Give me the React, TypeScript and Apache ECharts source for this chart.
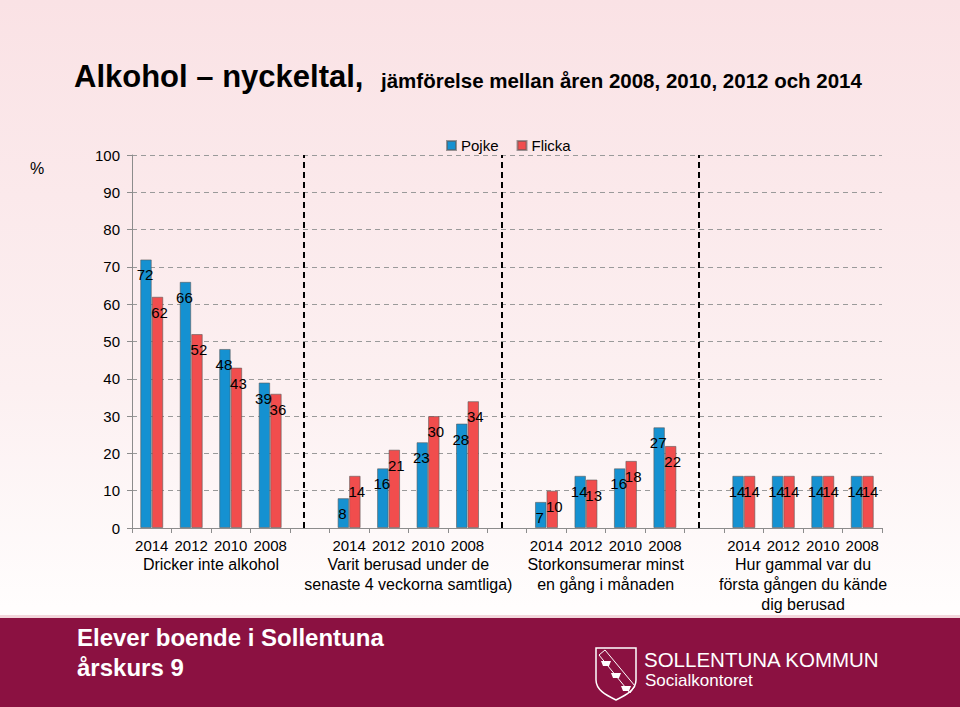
import React, { useEffect, useRef } from "react";
import * as echarts from "echarts";

const categories = [
  "2014", "2012", "2010", "2008", "",
  "2014", "2012", "2010", "2008", "",
  "2014", "2012", "2010", "2008", "",
  "2014", "2012", "2010", "2008",
];
const pojke = [72, 66, 48, 39, null, 8, 16, 23, 28, null, 7, 14, 16, 27, null, 14, 14, 14, 14];
const flicka = [62, 52, 43, 36, null, 14, 21, 30, 34, null, 10, 13, 18, 22, null, 14, 14, 14, 14];
const groupLabels = [
  "Dricker inte alkohol",
  "Varit berusad under de\nsenaste 4 veckorna samtliga)",
  "Storkonsumerar minst\nen gång i månaden",
  "Hur gammal var du\nförsta gången du kände\ndig berusad",
];
const groupStarts = [0, 5, 10, 15];
const separators = [4, 9, 14];
const seriesNames = ["Pojke", "Flicka"];

const FONT = "'Liberation Sans', Arial, sans-serif";
const BLUE = "#1591d1";
const RED = "#f14d4d";

const shieldPath =
  "M0,0 L40,0 L40,32 C40,42 30,47 20,52 C10,47 0,42 0,32 Z";

export default function App() {
  const ref = useRef<HTMLDivElement>(null);

  useEffect(() => {
    if (!ref.current) return;
    try {
      echarts.graphic.registerShape("logo", echarts.graphic.extendPath(shieldPath, {}) as any);
    } catch (e) {}
    const chart = echarts.init(ref.current, null, { renderer: "svg" });

    const labelOpt = (dx: number) => ({
      show: true,
      position: "insideTop",
      distance: 8,
      offset: [dx, 0],
      color: "#000",
      fontSize: 15,
      fontFamily: FONT,
      formatter: (p: any) => String(p.value),
    });

    const staticGraphics: any[] = [
      {
        type: "rect",
        shape: { x: 0, y: 615, width: 960, height: 3 },
        style: { fill: "#f3d6dc" },
        silent: true,
      },
      {
        type: "rect",
        shape: { x: 0, y: 618, width: 960, height: 89 },
        style: { fill: "#8b1141" },
        silent: true,
      },
      {
        type: "text",
        x: 74,
        y: 76,
        style: {
          text: "Alkohol – nyckeltal,",
          font: `bold 31px ${FONT}`,
          fill: "#000",
          verticalAlign: "middle",
        },
      },
      {
        type: "text",
        x: 381,
        y: 80,
        style: {
          text: "jämförelse mellan åren 2008, 2010, 2012 och 2014",
          font: `bold 20.5px ${FONT}`,
          fill: "#000",
          verticalAlign: "middle",
        },
      },
      {
        type: "text",
        x: 30,
        y: 168,
        style: { text: "%", font: `16px ${FONT}`, fill: "#000", verticalAlign: "middle" },
      },
      {
        type: "text",
        x: 77,
        y: 637,
        style: {
          text: "Elever boende i Sollentuna",
          font: `bold 24px ${FONT}`,
          fill: "#fff",
          verticalAlign: "middle",
        },
      },
      {
        type: "text",
        x: 77,
        y: 667,
        style: { text: "årskurs 9", font: `bold 24px ${FONT}`, fill: "#fff", verticalAlign: "middle" },
      },
      {
        type: "logo",
        x: 596,
        y: 648,
        scaleX: 1,
        scaleY: 1,
        style: { fill: "none", stroke: "#fff", lineWidth: 1.5 },
      },
      {
        type: "polygon",
        shape: { points: [[599, 655], [605, 650], [635, 686], [630, 693]] },
        style: { fill: "none", stroke: "#fff", lineWidth: 1 },
      },
      {
        type: "polygon",
        shape: { points: [[601, 661], [611, 661], [609, 666], [603, 666]] },
        style: { fill: "#fff" },
      },
      {
        type: "polygon",
        shape: { points: [[611, 673], [621, 673], [619, 678], [613, 678]] },
        style: { fill: "#fff" },
      },
      {
        type: "polygon",
        shape: { points: [[621, 686], [631, 686], [629, 691], [623, 691]] },
        style: { fill: "#fff" },
      },
      {
        type: "text",
        x: 644,
        y: 659,
        style: { text: "SOLLENTUNA KOMMUN", font: `20.5px ${FONT}`, fill: "#fff", verticalAlign: "middle" },
      },
      {
        type: "text",
        x: 645,
        y: 680,
        style: { text: "Socialkontoret", font: `17px ${FONT}`, fill: "#fff", verticalAlign: "middle" },
      },
    ];

    chart.setOption({
      animation: false,
      backgroundColor: new echarts.graphic.LinearGradient(0, 0, 0, 1, [
        { offset: 0, color: "#fae2e5" },
        { offset: 0.55, color: "#fcf0f1" },
        { offset: 0.86, color: "#fffdfd" },
        { offset: 1, color: "#ffffff" },
      ]),
      textStyle: { fontFamily: FONT },
      legend: {
        data: seriesNames,
        top: 133,
        left: 441,
        icon: "rect",
        itemWidth: 9,
        itemHeight: 9,
        itemGap: 18,
        textStyle: { fontSize: 15, color: "#000", fontFamily: FONT },
      },
      grid: { left: 132, right: 78, top: 155, bottom: 179, containLabel: false },
      xAxis: {
        type: "category",
        data: categories,
        axisLine: { lineStyle: { color: "#8c8c8c" } },
        axisTick: { show: true, length: 5, lineStyle: { color: "#8c8c8c" } },
        axisLabel: { color: "#000", fontSize: 15, fontFamily: FONT, margin: 10, interval: 0 },
      },
      yAxis: {
        type: "value",
        min: 0,
        max: 100,
        interval: 10,
        axisLine: { show: true, lineStyle: { color: "#8c8c8c" } },
        axisTick: { show: true, length: 5, lineStyle: { color: "#8c8c8c" } },
        axisLabel: { color: "#000", fontSize: 15, fontFamily: FONT, margin: 12 },
        splitLine: { lineStyle: { color: "#9a9a9a", type: [5, 4] } },
      },
      series: [
        {
          name: seriesNames[0],
          type: "bar",
          data: pojke,
          barWidth: 11.5,
          barGap: "0%",
          itemStyle: { color: BLUE, borderColor: "rgba(90,90,90,0.6)", borderWidth: 1 },
          label: labelOpt(-1),
          markLine: {
            silent: true,
            symbol: "none",
            label: { show: false },
            lineStyle: { color: "#000", type: [6, 4], width: 2 },
            data: separators.map((i) => ({ xAxis: i })),
          },
        },
        {
          name: seriesNames[1],
          type: "bar",
          data: flicka,
          barWidth: 11.5,
          barGap: "0%",
          itemStyle: { color: RED, borderColor: "rgba(90,90,90,0.6)", borderWidth: 1 },
          label: labelOpt(2),
        },
      ],
      graphic: staticGraphics,
    });

    const groupGraphics = groupStarts.map((s, i) => {
      const a = chart.convertToPixel({ xAxisIndex: 0 }, s + 1) as number;
      const b = chart.convertToPixel({ xAxisIndex: 0 }, s + 2) as number;
      return {
        type: "text",
        x: (a + b) / 2,
        y: 554,
        style: {
          text: groupLabels[i],
          font: `16px ${FONT}`,
          lineHeight: 20,
          fill: "#000",
          align: "center",
          verticalAlign: "top",
        },
      };
    });

    chart.setOption({ graphic: [...staticGraphics, ...groupGraphics] });

    return () => chart.dispose();
  }, []);

  return (
    <div
      ref={ref}
      style={{ position: "absolute", left: 0, top: 0, width: 960, height: 707 }}
    />
  );
}
